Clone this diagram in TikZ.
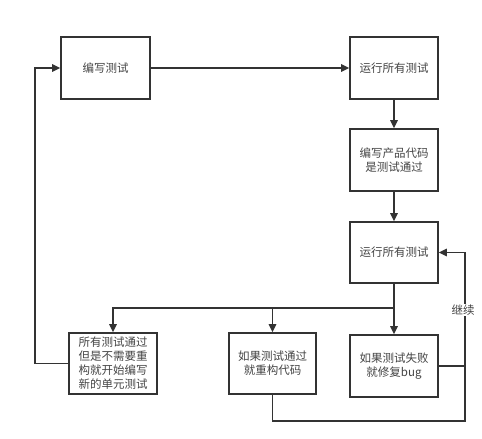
\documentclass[tikz,border=0pt]{standalone}
\usepackage{fontspec}
\setmainfont{Noto Sans CJK SC}
\usetikzlibrary{arrows.meta}
\definecolor{ink}{HTML}{333333}
\definecolor{txt}{HTML}{444444}
\begin{document}
\begin{tikzpicture}[x=1pt,y=-1pt,
  box/.style={draw=ink,line width=1.6pt,fill=white,text=txt,align=center,
    inner sep=1pt,font=\fontsize{11.5}{14}\selectfont},
  conn/.style={draw=ink,line width=1.6pt},
  arr/.style={conn,-{Triangle[length=8pt,width=7.5pt]}}]
\useasboundingbox (0,0) rectangle (482,439);
\node[box,minimum width=89pt,minimum height=62pt] (A) at (105.5,68) {编写测试};
\node[box,minimum width=88pt,minimum height=62pt] (B) at (394,68) {运行所有测试};
\node[box,minimum width=88pt,minimum height=62pt] (C) at (394,160) {编写产品代码\\是测试通过};
\node[box,minimum width=88pt,minimum height=61pt] (D) at (394,252.5) {运行所有测试};
\node[box,minimum width=88pt,minimum height=61pt] (E) at (113,363.5) {所有测试通过\\但是不需要重\\构就开始编写\\新的单元测试};
\node[box,minimum width=87pt,minimum height=61pt] (F) at (272.5,363.5) {如果测试通过\\就重构代码};
\node[box,minimum width=88pt,minimum height=62pt] (G) at (394,366) {如果测试失败\\就修复bug};
\coordinate (S) at (394,308);
\coordinate (R) at (465,366);
\draw[arr] (A) -- (B);
\draw[arr] (B) -- (C);
\draw[arr] (C) -- (D);
\draw[conn] (D) -- (S);
\draw[arr] (S) -- (G);
\draw[arr] (S) -| (E.north);
\draw[arr] (S) -| (F.north);
\draw[arr] (E.west) -| (35,68) -- (A.west);
\draw[conn] (G.east) -- (R);
\draw[arr] (F.south) |- (465,421) -- (R) |- (D.east);
\node[fill=white,text=txt,inner sep=1pt,font=\fontsize{11.5}{14}\selectfont] (L) at (463,310) {继续};
\end{tikzpicture}
\end{document}
